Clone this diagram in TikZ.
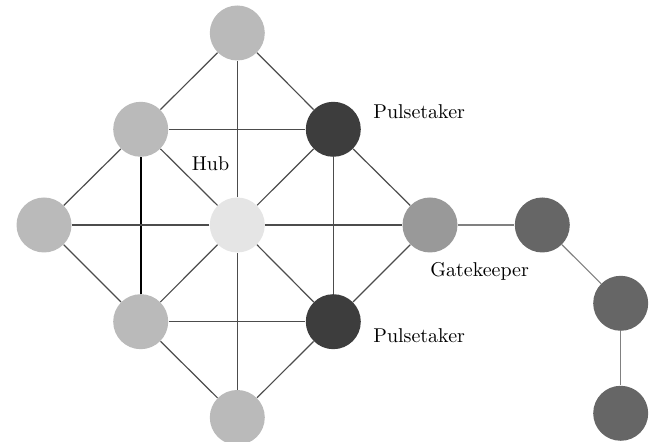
\documentclass[tikz,border=0pt]{standalone}
\usepackage{tikz}
\usetikzlibrary{positioning}
\definecolor{memberfill}{gray}{0.73}
\definecolor{hubfill}{gray}{0.90}
\definecolor{pulsefill}{gray}{0.24}
\definecolor{gatefill}{gray}{0.60}
\definecolor{outfill}{gray}{0.40}
\definecolor{linkgrey}{gray}{0.30}
\tikzset{
    member/.style={circle, inner sep=0pt, minimum size=27.5pt, fill=memberfill},
    link/.style={draw=linkgrey, line width=0.6pt},
    role/.style={inner sep=0pt, anchor=base west, font=\normalsize}
}

\begin{document}
\begin{tikzpicture}[x=0.5pt, y=-0.5pt]
                \useasboundingbox (0,0) rectangle (655,442);

                % Network members
                \node[member] (top) at (237.3, 33) {};
                \node[member] (ul) at (140.7, 129.3) {};
                \node[member, fill=pulsefill] (ur) at (333.3, 129.3) {};
                \node[member] (left) at (44, 225) {};
                \node[member, fill=hubfill] (hub) at (237.3, 225) {};
                \node[member, fill=gatefill] (gate) at (430, 225) {};
                \node[member] (ll) at (140.7, 321.7) {};
                \node[member, fill=pulsefill] (lr) at (333.3, 321.7) {};
                \node[member] (bottom) at (237.3, 417.5) {};

                % Outside chain
                \node[member, fill=outfill] (out1) at (542.3, 225) {};
                \node[member, fill=outfill] (out2) at (620.7, 303.3) {};
                \node[member, fill=outfill] (out3) at (620.7, 413.3) {};

                % Outer diamond
                \draw[link] (top) -- (ul);
                \draw[link] (top) -- (ur);
                \draw[link] (left) -- (ul);
                \draw[link] (left) -- (ll);
                \draw[link] (gate) -- (ur);
                \draw[link] (gate) -- (lr);
                \draw[link] (bottom) -- (ll);
                \draw[link] (bottom) -- (lr);

                % Inner square
                \draw[link] (ul) -- (ur);
                \draw[link] (ll) -- (lr);
                \draw[link] (ur) -- (lr);
                \draw[black, line width=1pt] (ul) -- (ll);

                % Spokes from the hub
                \draw[link] (hub) -- (top);
                \draw[link] (hub) -- (bottom);
                \draw[link] (hub) -- (left);
                \draw[link] (hub) -- (gate);
                \draw[link] (hub) -- (ul);
                \draw[link] (hub) -- (ur);
                \draw[link] (hub) -- (ll);
                \draw[link] (hub) -- (lr);

                % Chain through the gatekeeper
                \draw[link, draw=gray] (gate) -- (out1);
                \draw[link, draw=gray] (out1) -- (out2);
                \draw[link, draw=gray] (out2) -- (out3);

                % Roles
                \node[role] (hublabel) at (191.5, 171) {Hub};
                \node[role] (pulseup) at (373, 119) {Pulsetaker};
                \node[role] (pulsedown) at (373, 343) {Pulsetaker};
                \node[role] (gatelabel) at (430, 276.5) {Gatekeeper};
            \end{tikzpicture}
\end{document}
